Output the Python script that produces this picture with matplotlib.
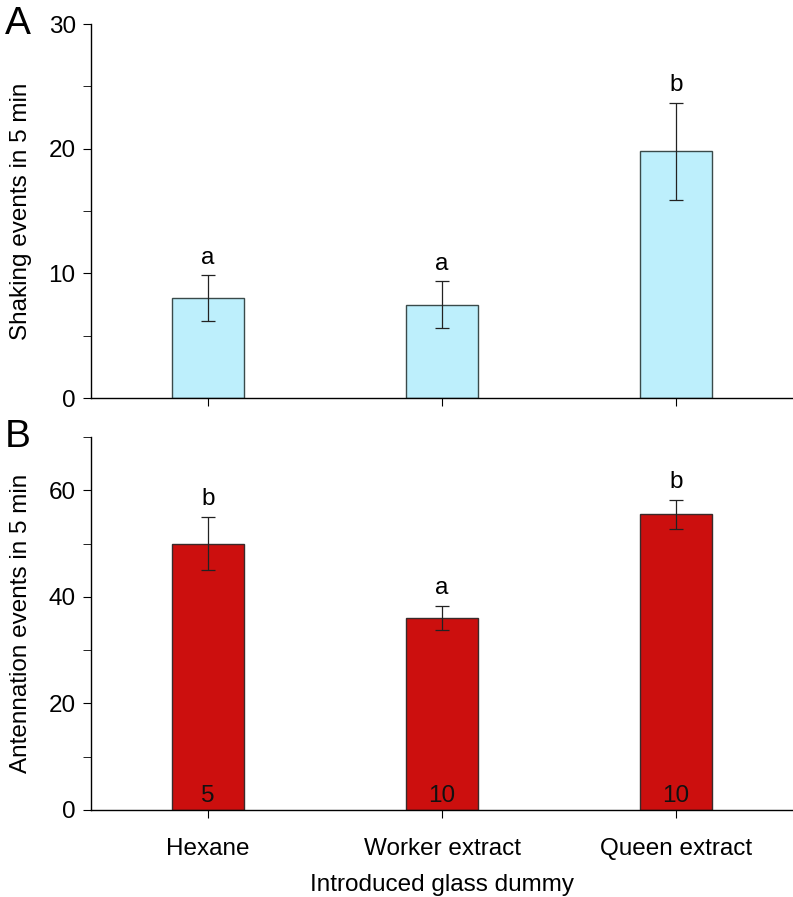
import matplotlib
matplotlib.use("Agg")
import matplotlib.pyplot as plt
import numpy as np
from matplotlib.ticker import MultipleLocator

plt.rcParams['font.family'] = ['Liberation Sans', 'DejaVu Sans']

#---------------------------------------------------------------------------------
# Data

groups = ["Hexane", "Worker extract", "Queen extract"]
shaking_mean = [8.0, 7.5, 19.8]
shaking_se = [1.85, 1.9, 3.9]
shaking_letters = ["a", "a", "b"]
antenn_mean = [50.0, 36.0, 55.5]
antenn_se = [5.0, 2.3, 2.7]
antenn_letters = ["b", "a", "b"]
n_per_group = ["5", "10", "10"]

#---------------------------------------------------------------------------------
# Plot

fs = 17.5
fig = plt.figure(figsize=(7.93, 8.97), dpi=100)
axA = fig.add_axes([91/793, 1 - 398/897, 1 - 91/793, (398 - 24)/897])
axB = fig.add_axes([91/793, 1 - 810/897, 1 - 91/793, (810 - 437)/897])

x = np.arange(len(groups))
w = 0.31

def style(ax, ymax, major, minor, ylabel):
    ax.set_xlim(-0.5, 2.5)
    ax.set_ylim(0, ymax)
    ax.spines['top'].set_visible(False)
    ax.spines['right'].set_visible(False)
    ax.spines['left'].set_linewidth(1.0)
    ax.spines['bottom'].set_linewidth(1.0)
    ax.yaxis.set_major_locator(MultipleLocator(major))
    ax.yaxis.set_minor_locator(MultipleLocator(minor))
    ax.tick_params(axis='y', which='major', direction='out', length=6, labelsize=fs, pad=5)
    ax.tick_params(axis='y', which='minor', direction='out', length=6)
    ax.tick_params(axis='x', direction='out', length=6, labelsize=fs, pad=14)
    ax.set_xticks(x)
    ax.set_ylabel(ylabel, fontsize=fs, labelpad=12)

# Panel A
axA.bar(x, shaking_mean, width=w, color="#BDEFFC", edgecolor="#3a4a4a", linewidth=1.0)
axA.errorbar(x, shaking_mean, yerr=shaking_se, fmt='none', ecolor='#222222', elinewidth=0.9, capsize=5, capthick=0.9)
for i in range(len(x)):
    axA.text(x[i], shaking_mean[i] + shaking_se[i] + 0.9, shaking_letters[i], ha='center', va='baseline', fontsize=fs)
style(axA, 30, 10, 5, "Shaking events in 5 min")
axA.set_xticklabels([])
axA.text(-0.123, 1.0, "A", transform=axA.transAxes, fontsize=28, ha='left', va='center')

# Panel B
axB.bar(x, antenn_mean, width=w, color="#CC0F0E", edgecolor="#3a2a2a", linewidth=1.0)
axB.errorbar(x, antenn_mean, yerr=antenn_se, fmt='none', ecolor='#222222', elinewidth=0.9, capsize=5, capthick=0.9)
for i in range(len(x)):
    axB.text(x[i], antenn_mean[i] + antenn_se[i] + 2.3, antenn_letters[i], ha='center', va='baseline', fontsize=fs)
    axB.text(x[i], 1.5, n_per_group[i], ha='center', va='baseline', fontsize=fs, color='#111111')
style(axB, 70, 20, 10, "Antennation events in 5 min")
axB.set_xticklabels(groups)
axB.set_xlabel("Introduced glass dummy", fontsize=fs, labelpad=10)
axB.text(-0.123, 1.0, "B", transform=axB.transAxes, fontsize=28, ha='left', va='center')

fig.savefig("out.png", dpi=100)
